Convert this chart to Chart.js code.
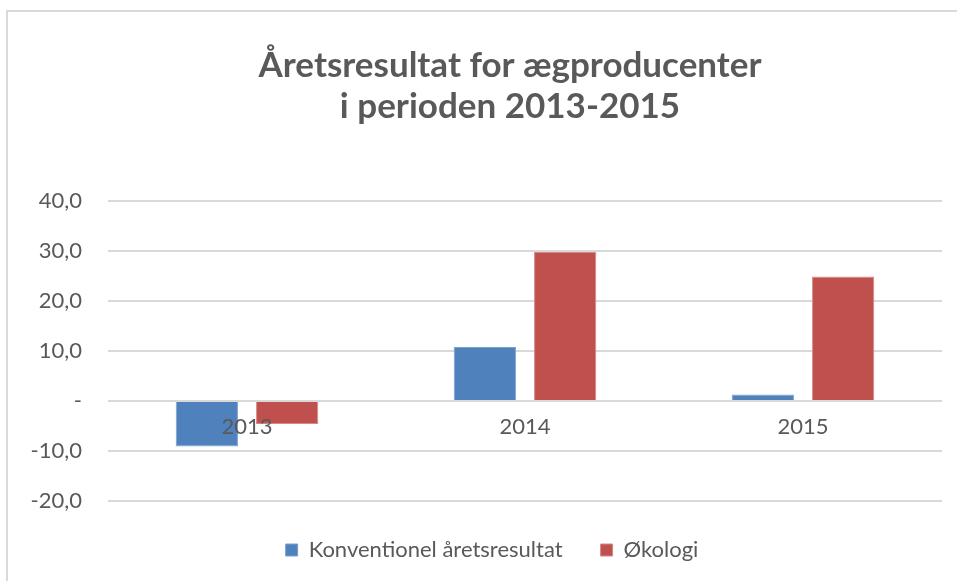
<!DOCTYPE html>
<html>
<head>
<meta charset="utf-8">
<script src="https://cdn.jsdelivr.net/npm/chart.js@4.4.1/dist/chart.umd.min.js"></script>
<style>
  body { margin: 0; background: #fff; }
  #box {
    position: absolute; left: 6px; top: 10px;
    width: 951px; height: 571px;
    border-left: 2px solid #d9d9d9; border-top: 2px solid #d9d9d9;
  }
</style>
</head>
<body>
<div id="box"><canvas id="grafic"></canvas></div>
<script>
// data
const years = ["2013", "2014", "2015"];
const konventionel = [-9.1, 10.8, 1.3];
const okologi = [-4.6, 29.8, 24.9];
const yTicks = [-20, -10, 0, 10, 20, 30, 40];

const grey = "#595959";

function fmt(v) {
  if (v === 0) return "-";
  return v.toFixed(1).replace(".", ",");
}

// Excel puts title and legend a bit off the canvas centre
const nudgeBoxes = {
  id: "nudgeBoxes",
  afterLayout(chart) {
    const t = chart.titleBlock;
    const l = chart.legend;
    if (t) { t.left += 35; t.right += 35; }
    if (l) { l.left += 17; l.right += 17; }
  },
};

const ctx = document.getElementById("grafic").getContext("2d");
const grafic = new Chart(ctx, {
  type: "bar",
  data: {
    labels: years,
    datasets: [
      {
        label: "Konventionel åretsresultat",
        data: konventionel,
        backgroundColor: "#4f81bd",
        borderColor: "#7ba0cd",
        borderWidth: 1,
      },
      {
        label: "Økologi",
        data: okologi,
        backgroundColor: "#c0504d",
        borderColor: "#d48987",
        borderWidth: 1,
      },
    ],
  },
  plugins: [nudgeBoxes],
  options: {
    responsive: true,
    maintainAspectRatio: false,
    animation: false,
    categoryPercentage: 0.578,
    barPercentage: 0.775,
    layout: { padding: { left: 0, right: 17, top: 0, bottom: 12 } },
    plugins: {
      tooltip: { enabled: false },
      title: {
        display: true,
        text: ["Åretsresultat for ægproducenter", "i perioden 2013-2015"],
        color: grey,
        font: { family: "Lato", size: 35, weight: "bold", lineHeight: 1.17 },
        padding: { top: 33, bottom: 74 },
      },
      legend: {
        position: "bottom",
        labels: {
          color: grey,
          font: { family: "Lato", size: 22 },
          boxWidth: 12,
          boxHeight: 12,
          padding: 38,
        },
      },
    },
    scales: {
      x: {
        position: { y: 0 },
        grid: { display: false },
        border: { display: false },
        ticks: {
          z: 1,
          color: grey,
          font: { family: "Lato", size: 22 },
          padding: 5,
        },
      },
      y: {
        min: yTicks[0],
        max: yTicks[yTicks.length - 1],
        afterBuildTicks: (axis) => {
          axis.ticks = yTicks.map((v) => ({ value: v }));
        },
        afterFit: (axis) => {
          axis.width = 100;
        },
        grid: { color: "#d9d9d9", lineWidth: 2, drawTicks: false },
        border: { display: false },
        ticks: {
          color: grey,
          font: { family: "Lato", size: 22 },
          padding: 26,
          callback: (v) => fmt(v),
        },
      },
    },
  },
});
</script>
</body>
</html>
